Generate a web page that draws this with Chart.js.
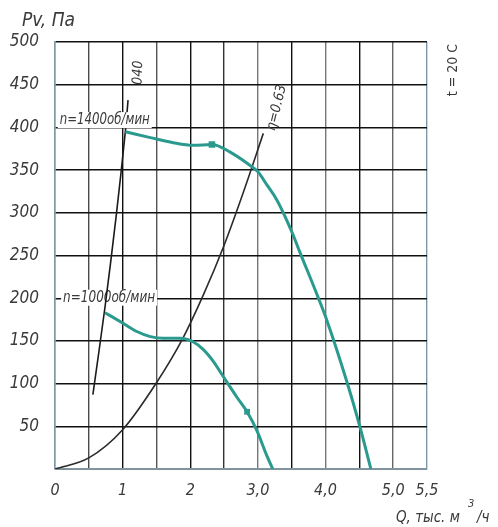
<!DOCTYPE html>
<html>
<head>
<meta charset="utf-8">
<script src="https://cdn.jsdelivr.net/npm/chart.js@4.4.0/dist/chart.umd.min.js"></script>
<style>
  html, body { margin: 0; padding: 0; background: #fff; }
  #wrap { width: 498px; height: 527px; }
</style>
</head>
<body>
<div id="wrap"><canvas id="fanChart" width="498" height="527"></canvas></div>
<script>
// Q, тыс. м3/ч  ->  Pv, Па
const q1400 = [1.04, 1.41, 1.75, 2.04, 2.32, 2.59, 2.84, 3.0, 3.13, 3.28, 3.5, 3.62, 3.89, 4.02, 4.32, 4.51, 4.67];
const p1400 = [395, 388, 382, 379, 380, 371, 358, 348, 333, 315, 278, 254, 201, 174, 101, 49, 0];

const q1000 = [0.74, 1.0, 1.21, 1.41, 1.6, 1.85, 2.04, 2.19, 2.34, 2.49, 2.69, 2.84, 2.99, 3.13, 3.22];
const p1000 = [183, 171, 161, 155, 153, 153, 149, 140, 126, 108, 84, 67, 44, 16, 0];

// характеристика сети
const qNet = [0, 0.5, 1.0, 1.5, 1.89, 2.2, 2.49, 2.78, 3.08];
const pNet = [0, 13, 46, 101, 153, 205, 260, 323, 393];

// линия η=0.40
const qEta40 = [0.56, 0.74, 0.91, 1.04, 1.08];
const pEta40 = [87, 190, 300, 395, 432];

const xTickValues = [0, 1, 2, 3, 4, 5, 5.5];
const xTickText = ['0', '1', '2', '3,0', '4,0', '5,0', '5,5'];
const yTickValues = [50, 100, 150, 200, 250, 300, 350, 400, 450, 500];

const toPoints = (xs, ys) => xs.map((x, i) => ({ x: x, y: ys[i] }));

const FONT = '"Liberation Sans Narrow", "DejaVu Sans Condensed", "Liberation Sans", sans-serif';
const TEAL = '#2a9a8e';
const INK = '#3a3a3a';
const vGridColors = ['#7f98a6', '#4a4a4a', '#111', '#555', '#111', '#333', '#777', '#111', '#777', '#111', '#666', '#7f98a6'];

function label(ctx, text, x, y, size, opts) {
    opts = opts || {};
    ctx.save();
    ctx.translate(x, y);
    if (opts.angle) ctx.rotate(opts.angle * Math.PI / 180);
    ctx.font = (opts.upright ? '' : 'italic ') + size + 'px ' + FONT;
    ctx.textAlign = opts.align || 'left';
    ctx.textBaseline = 'middle';
    let w = ctx.measureText(text).width;
    if (opts.maxWidth && w > opts.maxWidth) w = opts.maxWidth;
    if (opts.bg) {
        const x0 = ctx.textAlign === 'center' ? -w / 2 : 0;
        ctx.fillStyle = '#fff';
        ctx.fillRect(x0 - 2, -size / 2 - 1, w + 4, size + 1);
    }
    ctx.fillStyle = opts.color || INK;
    if (opts.maxWidth) ctx.fillText(text, 0, 0, opts.maxWidth);
    else ctx.fillText(text, 0, 0);
    ctx.restore();
}

const notes = {
    id: 'notes',
    beforeDatasetsDraw(chart) {
        const c = chart.ctx;
        const xs = chart.scales.x, ys = chart.scales.y;
        // n=1000 на линии 200 Па
        label(c, 'n=1000об/мин', xs.getPixelForValue(0.12), ys.getPixelForValue(200), 15, { bg: true, maxWidth: 92 });
    },
    afterDatasetsDraw(chart) {
        const c = chart.ctx;
        const xs = chart.scales.x, ys = chart.scales.y;
        label(c, 'n=1400об/мин', xs.getPixelForValue(0.07), ys.getPixelForValue(408), 15, { bg: true, maxWidth: 90 });
        label(c, '040', xs.getPixelForValue(1.23), ys.getPixelForValue(464), 14, { angle: -88, align: 'center' });
        label(c, 'η=0.63', xs.getPixelForValue(3.28), ys.getPixelForValue(423), 14, { angle: -76, align: 'center' });

        label(c, 't = 20 C', 453, 70, 14, { angle: -90, align: 'center', upright: true });
        label(c, 'Pv, Па', 22, 21, 19);

        // подпись оси Q
        label(c, 'Q, тыс. м', 396, 518, 15, { maxWidth: 66 });
        label(c, '3', 468, 504, 11);
        label(c, '/ч', 477, 518, 15);
    }
};

const ctx = document.getElementById('fanChart').getContext('2d');
const fanChart = new Chart(ctx, {
    type: 'line',
    data: {
        datasets: [
            {
                label: 'n=1400',
                data: toPoints(q1400, p1400),
                borderColor: TEAL,
                backgroundColor: TEAL,
                borderWidth: 3,
                cubicInterpolationMode: 'monotone',
                pointStyle: 'rect',
                pointRadius: q1400.map((q, i) => i === 4 ? 2.5 : 0)
            },
            {
                label: 'n=1000',
                data: toPoints(q1000, p1000),
                borderColor: TEAL,
                backgroundColor: TEAL,
                borderWidth: 3,
                cubicInterpolationMode: 'monotone',
                pointStyle: 'rect',
                pointRadius: q1000.map((q, i) => i === 11 ? 2 : 0)
            },
            {
                label: 'сеть',
                data: toPoints(qNet, pNet),
                borderColor: '#2b2b2b',
                borderWidth: 1.6,
                cubicInterpolationMode: 'monotone',
                pointRadius: 0
            },
            {
                label: 'η=0.40',
                data: toPoints(qEta40, pEta40),
                borderColor: '#1a1a1a',
                borderWidth: 1.6,
                tension: 0.3,
                pointRadius: 0
            }
        ]
    },
    options: {
        responsive: false,
        animation: false,
        layout: { padding: { left: 0, top: 42, right: 71, bottom: 0 } },
        scales: {
            x: {
                type: 'linear',
                min: 0,
                max: 5.5,
                afterFit: s => { s.height = 58; },
                border: { color: '#7f98a6', width: 1.5 },
                grid: {
                    color: c => vGridColors[c.index] || '#111',
                    lineWidth: 1.4,
                    drawTicks: false
                },
                ticks: {
                    stepSize: 0.5,
                    autoSkip: false,
                    maxRotation: 0,
                    padding: 12,
                    color: INK,
                    font: { family: FONT, size: 16, style: 'italic' },
                    callback: v => {
                        const i = xTickValues.indexOf(v);
                        return i >= 0 ? xTickText[i] : '';
                    }
                }
            },
            y: {
                type: 'linear',
                min: 0,
                max: 500,
                afterFit: s => { s.width = 55; },
                border: { color: '#7f98a6', width: 1.5 },
                grid: {
                    color: '#111',
                    lineWidth: 1.4,
                    drawTicks: false
                },
                ticks: {
                    stepSize: 50,
                    padding: 16,
                    color: INK,
                    font: { family: FONT, size: 17, style: 'italic' },
                    callback: v => yTickValues.includes(v) ? v : ''
                }
            }
        },
        plugins: {
            legend: { display: false },
            tooltip: { enabled: false }
        }
    },
    plugins: [notes]
});
</script>
</body>
</html>
